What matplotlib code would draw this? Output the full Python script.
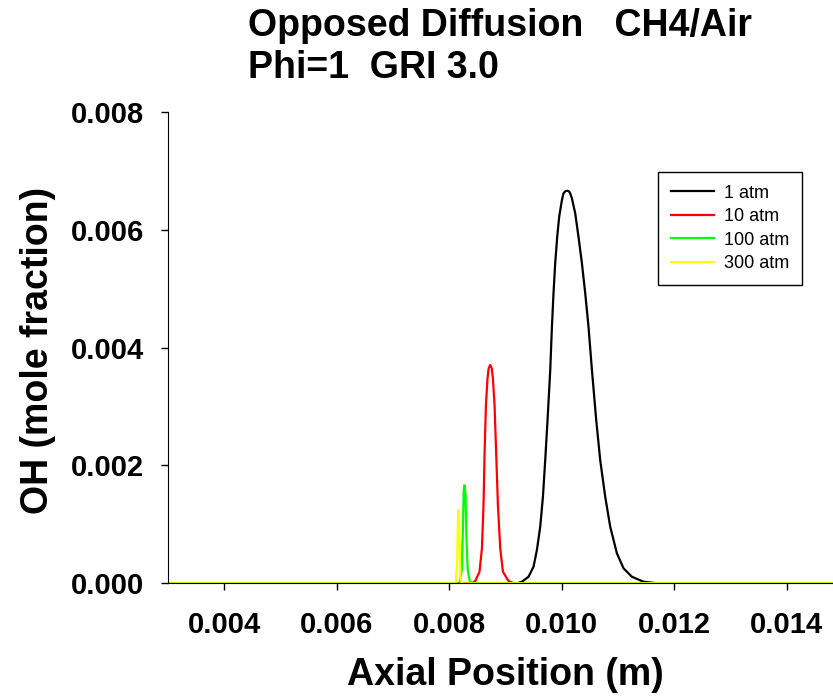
import matplotlib
matplotlib.use('Agg')
import matplotlib.pyplot as plt

plt.rcParams['font.family'] = ['Liberation Sans', 'DejaVu Sans']

# axial position (m) and OH mole fraction
x_1atm = [0.0030, 0.0092, 0.009291, 0.009408, 0.009497, 0.009557, 0.009616, 0.009664,
          0.009705, 0.009746, 0.009794, 0.009824, 0.009852, 0.009882, 0.009918, 0.009953,
          0.010002, 0.010030, 0.010065, 0.010101, 0.010130, 0.010149, 0.010179, 0.010238,
          0.010296, 0.010357, 0.010416, 0.010474, 0.010535, 0.010611, 0.010682, 0.010771,
          0.010860, 0.010979, 0.011096, 0.011245, 0.011452, 0.011700, 0.0150]
y_1atm = [0, 0, 0.000027, 0.000112, 0.000282, 0.000565, 0.000961, 0.001470,
          0.002093, 0.002772, 0.003621, 0.004356, 0.004923, 0.005432, 0.005884, 0.006223,
          0.006507, 0.006620, 0.006658, 0.006664, 0.006650, 0.006620, 0.006535, 0.006281,
          0.005884, 0.005432, 0.004923, 0.004356, 0.003621, 0.002772, 0.002093, 0.001470,
          0.000961, 0.000509, 0.000255, 0.000112, 0.000027, 0, 0]

x_10atm = [0.0030, 0.008400, 0.008461, 0.008537, 0.008580, 0.008608, 0.008626, 0.008651,
           0.008679, 0.008700, 0.008727, 0.008754, 0.008775, 0.008804, 0.008834, 0.008864,
           0.008905, 0.008953, 0.009052, 0.009150, 0.0150]
y_10atm = [0, 0, 0.000039, 0.000197, 0.000594, 0.001329, 0.002178, 0.003027,
           0.003480, 0.003650, 0.003706, 0.003650, 0.003480, 0.003027, 0.002178, 0.001329,
           0.000594, 0.000197, 0.000039, 0, 0]

x_100atm = [0.0030, 0.008185, 0.008221, 0.008242, 0.008256, 0.008271, 0.008288, 0.008306,
            0.008327, 0.008363, 0.008410, 0.0150]
y_100atm = [0, 0, 0.000226, 0.000905, 0.001584, 0.001664, 0.0015, 0.000735,
            0.000226, 0.00004, 0, 0]

x_300atm = [0.0030, 0.008114, 0.008141, 0.008155, 0.008167, 0.008182, 0.008198, 0.008221, 0.0150]
y_300atm = [0, 0, 0.000396, 0.00121, 0.001244, 0.000735, 0.00009, 0, 0]

labels = ['1 atm', '10 atm', '100 atm', '300 atm']
colors = ['black', '#ff0000', '#00ff00', '#ffff00']
xticks = [0.004, 0.006, 0.008, 0.010, 0.012, 0.014]
yticks = [0.000, 0.002, 0.004, 0.006, 0.008]

W, H = 833, 698
fig = plt.figure(figsize=(W / 100, H / 100), dpi=100)
ax = fig.add_axes([0.2017, 0.1643, 0.7983, 0.6752])

series = [(x_1atm, y_1atm), (x_10atm, y_10atm), (x_100atm, y_100atm), (x_300atm, y_300atm)]
for (xs, ys), c, lab in zip(series, colors, labels):
    ax.plot(xs, ys, color=c, lw=1.6, label=lab)

ax.set_xlim(0.003, 0.01482)
ax.set_ylim(0, 0.008)
ax.set_xticks(xticks)
ax.set_yticks(yticks)
ax.set_xticklabels(['%.3f' % v for v in xticks])
ax.set_yticklabels(['%.3f' % v for v in yticks])
ax.tick_params(direction='out', length=5, width=1, labelsize=21)
ax.tick_params(axis='x', pad=15)
ax.tick_params(axis='y', pad=12)
for t in ax.get_xticklabels() + ax.get_yticklabels():
    t.set_fontweight('bold')
ax.spines['top'].set_visible(False)
ax.spines['right'].set_visible(False)

# axis labels and title placed in figure pixels
fig.text(505 / W, 1 - 685 / H, 'Axial Position (m)', fontsize=27, fontweight='bold',
         ha='center', va='baseline')
fig.text(20 / W, 1 - 350 / H, 'OH (mole fraction)', fontsize=27, fontweight='bold',
         rotation=90, ha='left', va='center')
fig.text(248 / W, 1 - 35.5 / H, 'Opposed Diffusion   CH4/Air', fontsize=27,
         fontweight='bold', ha='left', va='baseline')
fig.text(248 / W, 1 - 78.5 / H, 'Phi=1  GRI 3.0', fontsize=27,
         fontweight='bold', ha='left', va='baseline')

leg = ax.legend(loc='upper left', bbox_to_anchor=(658 / W, 1 - 172 / H),
                bbox_transform=fig.transFigure, fontsize=13, fancybox=False,
                edgecolor='black', framealpha=1, handlelength=2.4, labelspacing=0.36,
                borderpad=0.7, handletextpad=0.55, borderaxespad=0)
leg.get_frame().set_linewidth(1)

fig.savefig('out.png', dpi=100)
